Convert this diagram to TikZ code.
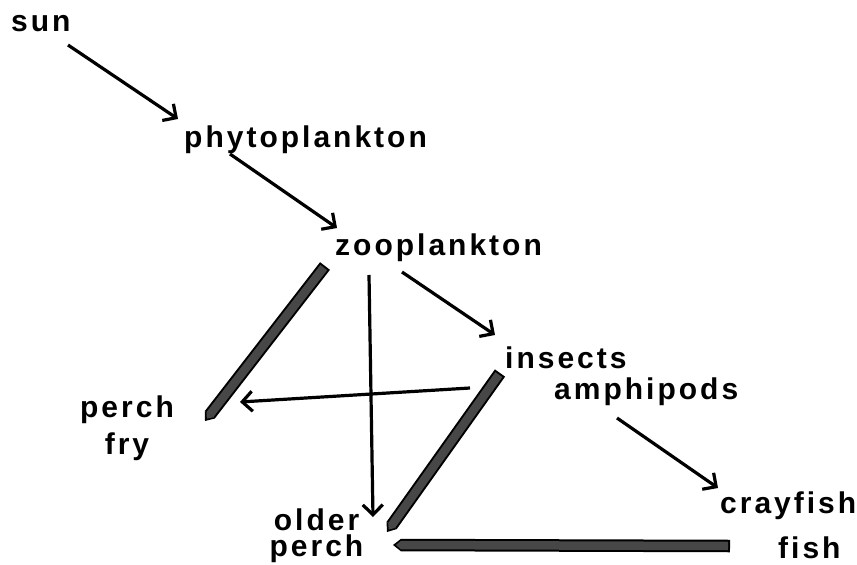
\documentclass[tikz,border=0pt]{standalone}
\usepackage{fontspec}
\setmainfont{Liberation Sans}[LetterSpace=10]
\usetikzlibrary{arrows.meta}

\begin{document}
\begin{tikzpicture}[
  x=1pt, y=-1pt,
  font=\fontsize{30}{30}\selectfont\bfseries,
  % ── labels
  lbl/.style={inner sep=0pt, anchor=base west},
  two/.style={inner sep=0pt, anchor=base, align=center},
  % ── thin arrows
  arr/.style={-{Straight Barb[length=10pt,width=20pt]}, line width=3.2pt},
  % ── thick pencil bars
  bar/.style={
    draw=black, line width=12.5pt,
    -{Triangle[length=8pt,width=12.5pt,line width=0pt]},
    postaction={draw=black!72, line width=8.5pt, shorten >=3pt, shorten <=2pt,
      -{Triangle[length=5pt,width=8.5pt,line width=0pt]}}
  },
]
\useasboundingbox (0,0) rectangle (857,565);

%% ── food chain labels
\node[lbl] (sun)   at (11,31)   {sun};
\node[lbl] (phyto) at (184,147) {phytoplankton};
\node[lbl] (zoo)   at (335,255) {zooplankton};
\node[lbl] (ins)   at (505,368) {insects};
\node[lbl] (amph)  at (554,399) {amphipods};
\node[two] (fry)   at (127,454) {perch\\[7pt]fry};
\node[two] (older) at (316.5,556) {older\\[-4pt]perch};
\node[lbl] (cray)  at (720,513) {crayfish};
\node[lbl] (fish)  at (778,558) {fish};

%% ── thin arrows
\draw[arr] ([shift={(57,14)}]sun.base west)    -- ([shift={(-6,-28)}]phyto.base west);
\draw[arr] ([shift={(46,7)}]phyto.base west)   -- ([shift={(2,-27)}]zoo.base west);
\draw[arr] ([shift={(67,17)}]zoo.base west)    -- ([shift={(-10,-33)}]ins.base west);
\draw[arr] ([shift={(34,20)}]zoo.base west)    -- ([shift={(56.5,-39)}]older.base);
\draw[arr] ([shift={(-35,20)}]ins.base west)   -- ([shift={(113,-52)}]fry.base);
\draw[arr] ([shift={(63,19)}]amph.base west)   -- ([shift={(-2,-25)}]cray.base west);

%% ── thick bars
\draw[bar] ([shift={(-10,11)}]zoo.base west)   -- ([shift={(78,-33)}]fry.base);
\draw[bar] ([shift={(-5,5)}]ins.base west)     -- ([shift={(70.5,-24)}]older.base);
\draw[bar] ([shift={(-48,-12)}]fish.base west) -- ([shift={(76.5,-11)}]older.base);

\end{tikzpicture}
\end{document}
